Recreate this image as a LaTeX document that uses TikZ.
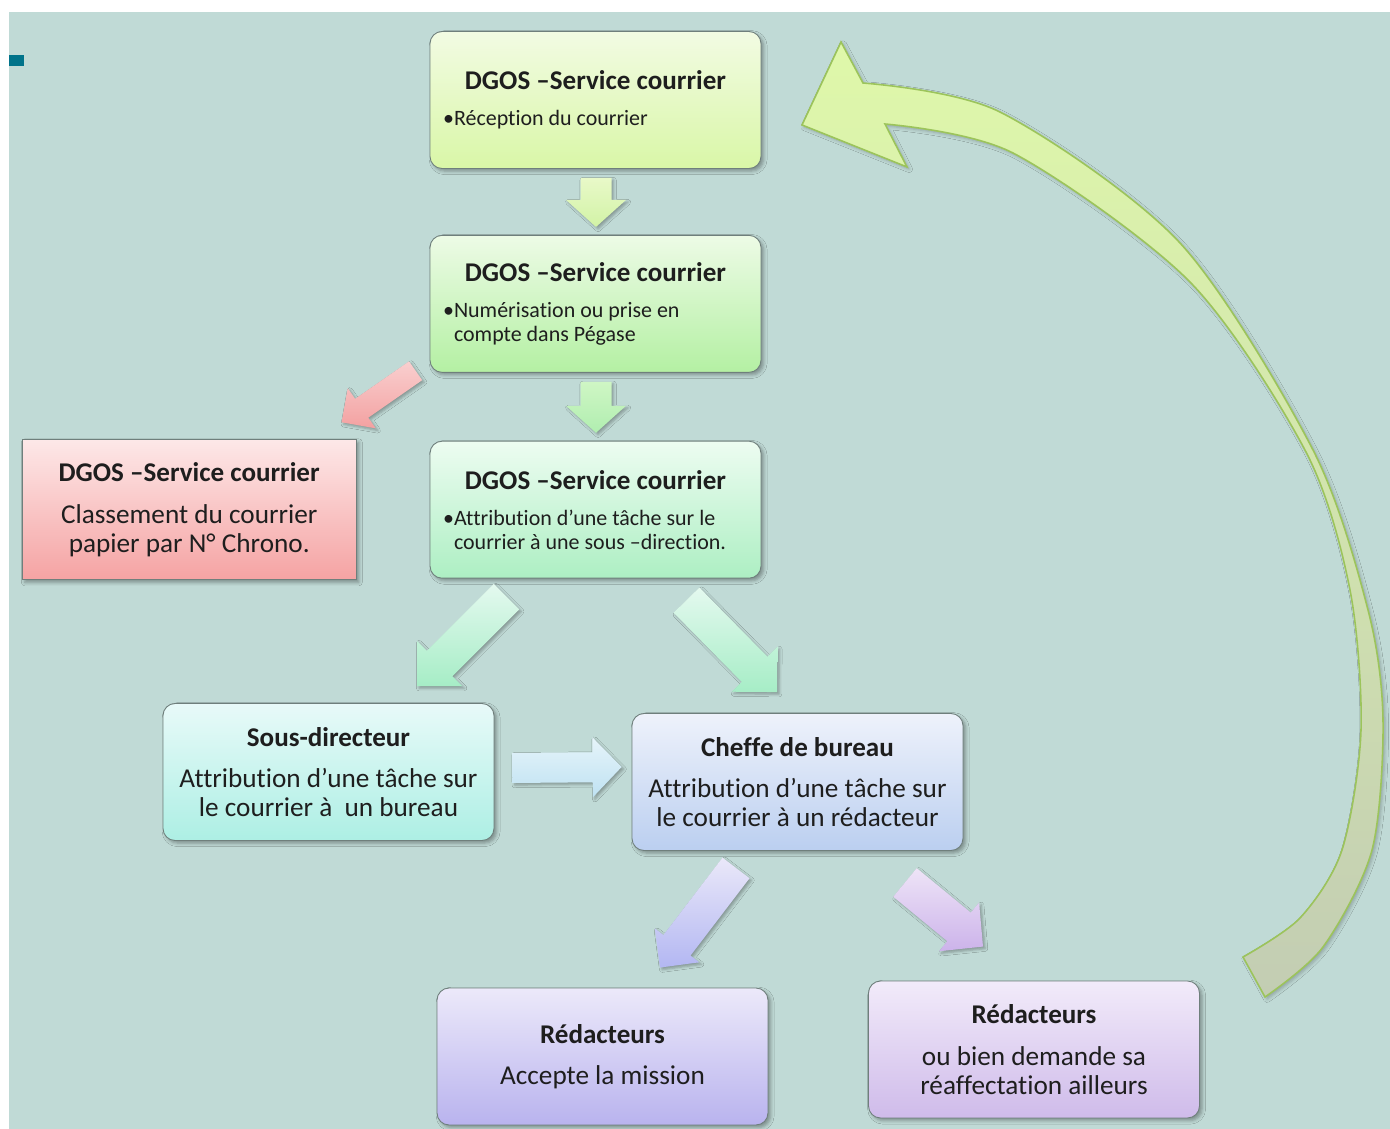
\documentclass[tikz,border=0pt]{standalone}
\usepackage{fontspec}
\setmainfont{Carlito}[Ligatures=NoCommon]
\usetikzlibrary{positioning,calc,shadows.blur}

\definecolor{bgteal}{HTML}{C0DAD6}
\definecolor{markteal}{HTML}{00738A}
\definecolor{boxline}{HTML}{6F7F7C}
\definecolor{ink}{HTML}{1E1E1E}
\definecolor{curvefill}{HTML}{DFF8AA}
\definecolor{curvegrey}{HTML}{C3CDB3}
\definecolor{curveline}{HTML}{9CC45B}
% boxes: top / bottom
\definecolor{limeA}{HTML}{F2FBE3}\definecolor{limeB}{HTML}{D9F7A7}
\definecolor{greenA}{HTML}{EDFBE6}\definecolor{greenB}{HTML}{B4F0A3}
\definecolor{mintA}{HTML}{EDFCF1}\definecolor{mintB}{HTML}{ADEFC3}
\definecolor{roseA}{HTML}{FDE8E8}\definecolor{roseB}{HTML}{F5A3A3}
\definecolor{aquaA}{HTML}{E8FAF9}\definecolor{aquaB}{HTML}{ADEFE4}
\definecolor{skyA}{HTML}{EEF2FB}\definecolor{skyB}{HTML}{BBCFF0}
\definecolor{lavA}{HTML}{ECE9FA}\definecolor{lavB}{HTML}{B9B3EE}
\definecolor{lilacA}{HTML}{F2EBFA}\definecolor{lilacB}{HTML}{CFBBEA}
% arrows: top / bottom
\definecolor{aLimeA}{HTML}{E8F9C8}\definecolor{aLimeB}{HTML}{D2F3A6}
\definecolor{aGreenA}{HTML}{CFF6C4}\definecolor{aGreenB}{HTML}{B0EEB0}
\definecolor{aRoseA}{HTML}{F9CFCF}\definecolor{aRoseB}{HTML}{F3A1A1}
\definecolor{aMintA}{HTML}{E4F9EF}\definecolor{aMintB}{HTML}{A6EDC6}
\definecolor{aSkyA}{HTML}{E6F4FA}\definecolor{aSkyB}{HTML}{BFE2F2}
\definecolor{aLavA}{HTML}{EAE8F9}\definecolor{aLavB}{HTML}{B3B7F2}
\definecolor{aLilacA}{HTML}{EEE4F7}\definecolor{aLilacB}{HTML}{CCB3EA}

\newcommand{\boxtitle}{\fontsize{15.4}{16.5}\selectfont\bfseries}
\newcommand{\boxtext}{\fontsize{15.5}{16.5}\selectfont}
\newcommand{\boxsmall}{\fontsize{12.5}{13.6}\selectfont}
\newcommand{\bul}[1]{\parbox[t]{6.1cm}{\raggedright\hangindent=0.22cm\hangafter=1
  \noindent\makebox[0.22cm][l]{\textbullet}#1}}

\begin{document}
\begin{tikzpicture}[x=0.02cm, y=-0.02cm,
  box/.style={draw=boxline, line width=0.5pt, rounded corners=0.24cm,
    minimum width=6.62cm, minimum height=2.74cm, inner sep=0pt,
    align=center, text=ink, font=\boxtext,
    blur shadow={shadow xshift=1.5pt, shadow yshift=-1.5pt,
      shadow blur radius=2pt, shadow opacity=35}},
  shade2/.style 2 args={top color=#1, bottom color=#2},
  fat/.style n args={3}{to path={
    let \p1=(\tikztostart), \p2=(\tikztotarget),
        \n1={atan2(\y2-\y1,\x2-\x1)} in
    ($(\p1)+(\n1+90:#1)$)
    -- ($(\p2)+(\n1+180:#3)+(\n1+90:#1)$)
    -- ($(\p2)+(\n1+180:#3)+(\n1+90:#2)$)
    -- (\p2)
    -- ($(\p2)+(\n1+180:#3)+(\n1-90:#2)$)
    -- ($(\p2)+(\n1+180:#3)+(\n1-90:#1)$)
    -- ($(\p1)+(\n1-90:#1)$) -- cycle}},
  fatarrow/.style 2 args={top color=#1, bottom color=#2, draw=none,
    blur shadow={shadow xshift=1.2pt, shadow yshift=-1.2pt,
      shadow blur radius=1.5pt, shadow opacity=30}}]

\useasboundingbox (0,0) rectangle (1390,1129);
\fill[bgteal] (9,12) rectangle (1390,1129);
\fill[markteal] (9,55) rectangle (24,66);

% DGOS column
\node[box, shade2={limeA}{limeB}] (dgos1) at (595.5,100)
  {{\boxtitle DGOS –Service courrier}\\[4pt]
   {\boxsmall\bul{Réception du courrier}}};
\node[box, shade2={greenA}{greenB}, below=1.32cm of dgos1] (dgos2)
  {{\boxtitle DGOS –Service courrier}\\[4pt]
   {\boxsmall\bul{Numérisation ou prise en\newline compte dans Pégase}}};
\node[box, shade2={mintA}{mintB}, below=1.36cm of dgos2] (dgos3)
  {{\boxtitle DGOS –Service courrier}\\[4pt]
   {\boxsmall\bul{Attribution d’une tâche sur le\newline courrier à une sous –direction.}}};
\node[box, shade2={roseA}{roseB}, sharp corners, minimum width=6.68cm,
  minimum height=2.8cm, left=1.46cm of dgos3] (classement)
  {{\boxtitle DGOS –Service courrier}\\[7pt]
   Classement du courrier\\papier par N° Chrono.};

% lower levels
\node[box, shade2={aquaA}{aquaB}] (sousdir) at (328.5,772)
  {{\boxtitle Sous-directeur}\\[7pt]
   Attribution d’une tâche sur\\le courrier à\ \ un bureau};
\node[box, shade2={skyA}{skyB}] (cheffe) at (797.5,782)
  {{\boxtitle Cheffe de bureau}\\[7pt]
   Attribution d’une tâche sur\\le courrier à un rédacteur};
\node[box, shade2={lavA}{lavB}] (redac1) at (602.5,1056.5)
  {{\boxtitle Rédacteurs}\\[7pt]Accepte la mission};
\node[box, shade2={lilacA}{lilacB}] (redac2) at (1034,1049.5)
  {{\boxtitle Rédacteurs}\\[7pt]ou bien demande sa\\réaffectation ailleurs};

% block arrows
\coordinate (a1s) at ($(dgos1.south)+(0.5,9)$);
\coordinate (a1e) at ($(dgos2.north)+(0.5,-8)$);
\coordinate (a2s) at ($(dgos2.south)+(0.5,9)$);
\coordinate (a2e) at ($(dgos3.north)+(0.5,-8)$);
\coordinate (rs) at ($(dgos2.south west)+(-14,-2)$);
\coordinate (re) at ($(classement.north east)+(-15,-17)$);
\coordinate (gls) at ($(dgos3.south)+(-89,18)$);
\coordinate (gle) at ($(sousdir.north)+(88.5,-17)$);
\coordinate (grs) at ($(dgos3.south)+(91,21.5)$);
\coordinate (gre) at ($(cheffe.north)+(-20.5,-21)$);
\coordinate (cs) at ($(sousdir.east)+(18,-4)$);
\coordinate (ce) at ($(cheffe.west)+(-10,-15)$);
\coordinate (ls) at ($(cheffe.south)+(-61.5,17)$);
\coordinate (le) at ($(redac1.north)+(57.5,-20)$);
\coordinate (ps) at ($(cheffe.south)+(107.5,31.5)$);
\coordinate (pe) at ($(redac2.north)+(-51,-34)$);

\path[fatarrow={aLimeA}{aLimeB}] (a1s) to[fat={0.31cm}{0.6cm}{0.54cm}] (a1e);
\path[fatarrow={aGreenA}{aGreenB}] (a2s) to[fat={0.31cm}{0.6cm}{0.54cm}] (a2e);
\path[fatarrow={aRoseA}{aRoseB}] (rs) to[fat={0.23cm}{0.49cm}{0.49cm}] (re);
\path[fatarrow={aMintA}{aMintB}] (gls) to[fat={0.36cm}{0.64cm}{0.64cm}] (gle);
\path[fatarrow={aMintA}{aMintB}] (grs) to[fat={0.36cm}{0.64cm}{0.64cm}] (gre);
\path[fatarrow={aSkyA}{aSkyB}] (cs) to[fat={0.3cm}{0.6cm}{0.58cm}] (ce);
\path[fatarrow={aLavA}{aLavB}] (ls) to[fat={0.34cm}{0.56cm}{0.56cm}] (le);
\path[fatarrow={aLilacA}{aLilacB}] (ps) to[fat={0.37cm}{0.63cm}{0.62cm}] (pe);

% curved return arrow
\shade[top color=curvefill, bottom color=curvegrey, draw=curveline, line width=0.9pt,
  blur shadow={shadow xshift=1.2pt, shadow yshift=-1.2pt, shadow opacity=25}]
  (802,125) -- (841,42) -- (863,83)
  -- plot[smooth] coordinates {(863,83) (1000,112) (1180,243) (1313,450)
     (1368,610) (1383,720) (1372,850) (1323,947) (1265,997)}
  -- (1243,957)
  -- plot[smooth] coordinates {(1243,957) (1300,918) (1342,850) (1361,730)
     (1350,590) (1306,452) (1190,282) (1013,153) (885,124)}
  -- (907,167) -- cycle;
\end{tikzpicture}
\end{document}
